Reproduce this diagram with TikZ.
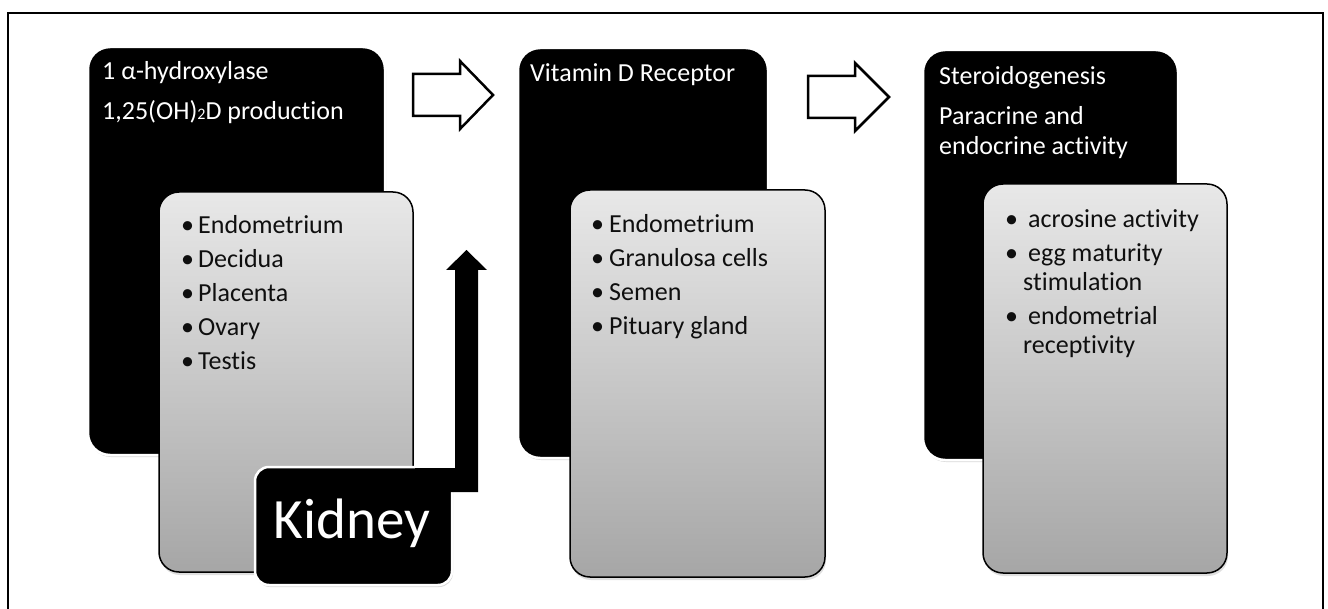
\documentclass[tikz,border=0pt]{standalone}
\usepackage{fontspec}
\setmainfont{Carlito}[Ligatures={NoCommon,NoRequired}]
\usetikzlibrary{shadows}
\definecolor{gtop}{RGB}{232,232,232}
\definecolor{gbot}{RGB}{166,166,166}
\definecolor{gtext}{RGB}{15,15,15}
\newcommand\mybul[1]{\makebox[#1][l]{•}}
\begin{document}
\begin{tikzpicture}[x=1pt,y=-1pt,
  blackbox/.style={draw=white, line width=2.5pt, fill=black, inner sep=0pt,
    drop shadow={opacity=0.3, shadow xshift=1pt, shadow yshift=-2pt}},
  greybox/.style={draw=black, line width=1.5pt, top color=gtop, bottom color=gbot,
    rounded corners=20pt, inner sep=0pt,
    drop shadow={opacity=0.25, shadow xshift=1pt, shadow yshift=-3pt}},
  outarrow/.style={draw=black, line width=2.5pt, fill=white, line join=miter},
  wtxt/.style={anchor=base west, inner sep=0pt, text=white, font=\fontsize{26}{30}\selectfont},
  btxt/.style={anchor=base west, inner sep=0pt, text=gtext, font=\fontsize{26}{30}\selectfont}
]
\fill[white] (0,0) rectangle (1328,609);
\useasboundingbox (0,0) rectangle (1328,609);
% frame
\draw[line width=2pt] (8,609) -- (8,13) -- (1323,13) -- (1323,609);

% column 1
\node[blackbox, rounded corners=22pt, minimum width=297pt, minimum height=408pt] (b1) at (236.5,251) {};
\node[greybox, minimum width=254pt, minimum height=380pt] (g1) at (286,382) {};
\node[wtxt] (h1a) at (102,80) {1 α-hydroxylase};
\node[wtxt] (h1b) at (102,120) {1,25(OH){\fontsize{16}{16}\selectfont 2}D production};
\node[btxt] (l1a) at (181,234) {\mybul{17pt}Endometrium};
\node[btxt] (l1b) at (181,268) {\mybul{17pt}Decidua};
\node[btxt] (l1c) at (181,302) {\mybul{17pt}Placenta};
\node[btxt] (l1d) at (181,336) {\mybul{17pt}Ovary};
\node[btxt] (l1e) at (181,370) {\mybul{17pt}Testis};
\node[blackbox, rounded corners=14pt, minimum width=197pt, minimum height=118pt] (kid) at (353.5,526) {};
\fill[black] (415,468) -- (455,468) -- (455,270) -- (446,270) -- (466.5,250)
  -- (487,270) -- (478,270) -- (478,492) -- (415,492) -- cycle;
\node[anchor=base, inner sep=0pt, text=white, font=\fontsize{57}{60}\selectfont] (kt) at (352,538) {Kidney};

% arrow 1
\draw[outarrow] (413,74) -- (460,74) -- (460,61) -- (493,95) -- (460,129) -- (460,116) -- (413,116) -- cycle;

% column 2
\node[blackbox, rounded corners=22pt, minimum width=250pt, minimum height=410pt] (b2) at (643,253) {};
\node[greybox, minimum width=255pt, minimum height=387pt] (g2) at (697.5,383.5) {};
\node[wtxt] (h2a) at (530,82) {Vitamin D Receptor};
\node[btxt] (l2a) at (591,233) {\mybul{18pt}Endometrium};
\node[btxt] (l2b) at (591,267) {\mybul{18pt}Granulosa cells};
\node[btxt] (l2c) at (591,301) {\mybul{18pt}Semen};
\node[btxt] (l2d) at (591,335) {\mybul{18pt}Pituary gland};

% arrow 2
\draw[outarrow] (808,76) -- (855,76) -- (855,63) -- (889,97) -- (855,131) -- (855,118) -- (808,118) -- cycle;

% column 3
\node[blackbox, rounded corners=22pt, minimum width=255pt, minimum height=410pt] (b3) at (1050.5,255) {};
\node[greybox, minimum width=244pt, minimum height=389pt] (g3) at (1105,378.5) {};
\node[wtxt] (h3a) at (939,85) {Steroidogenesis};
\node[wtxt] (h3b) at (939,125) {Paracrine and};
\node[wtxt] (h3c) at (939,155) {endocrine activity};
\node[btxt] (l3a) at (1005,228) {\mybul{23pt}acrosine activity};
\node[btxt] (l3b) at (1005,262) {\mybul{23pt}egg maturity};
\node[btxt] (l3c) at (1023,291) {stimulation};
\node[btxt] (l3d) at (1005,325) {\mybul{23pt}endometrial};
\node[btxt] (l3e) at (1023,354) {receptivity};
\end{tikzpicture}
\end{document}
